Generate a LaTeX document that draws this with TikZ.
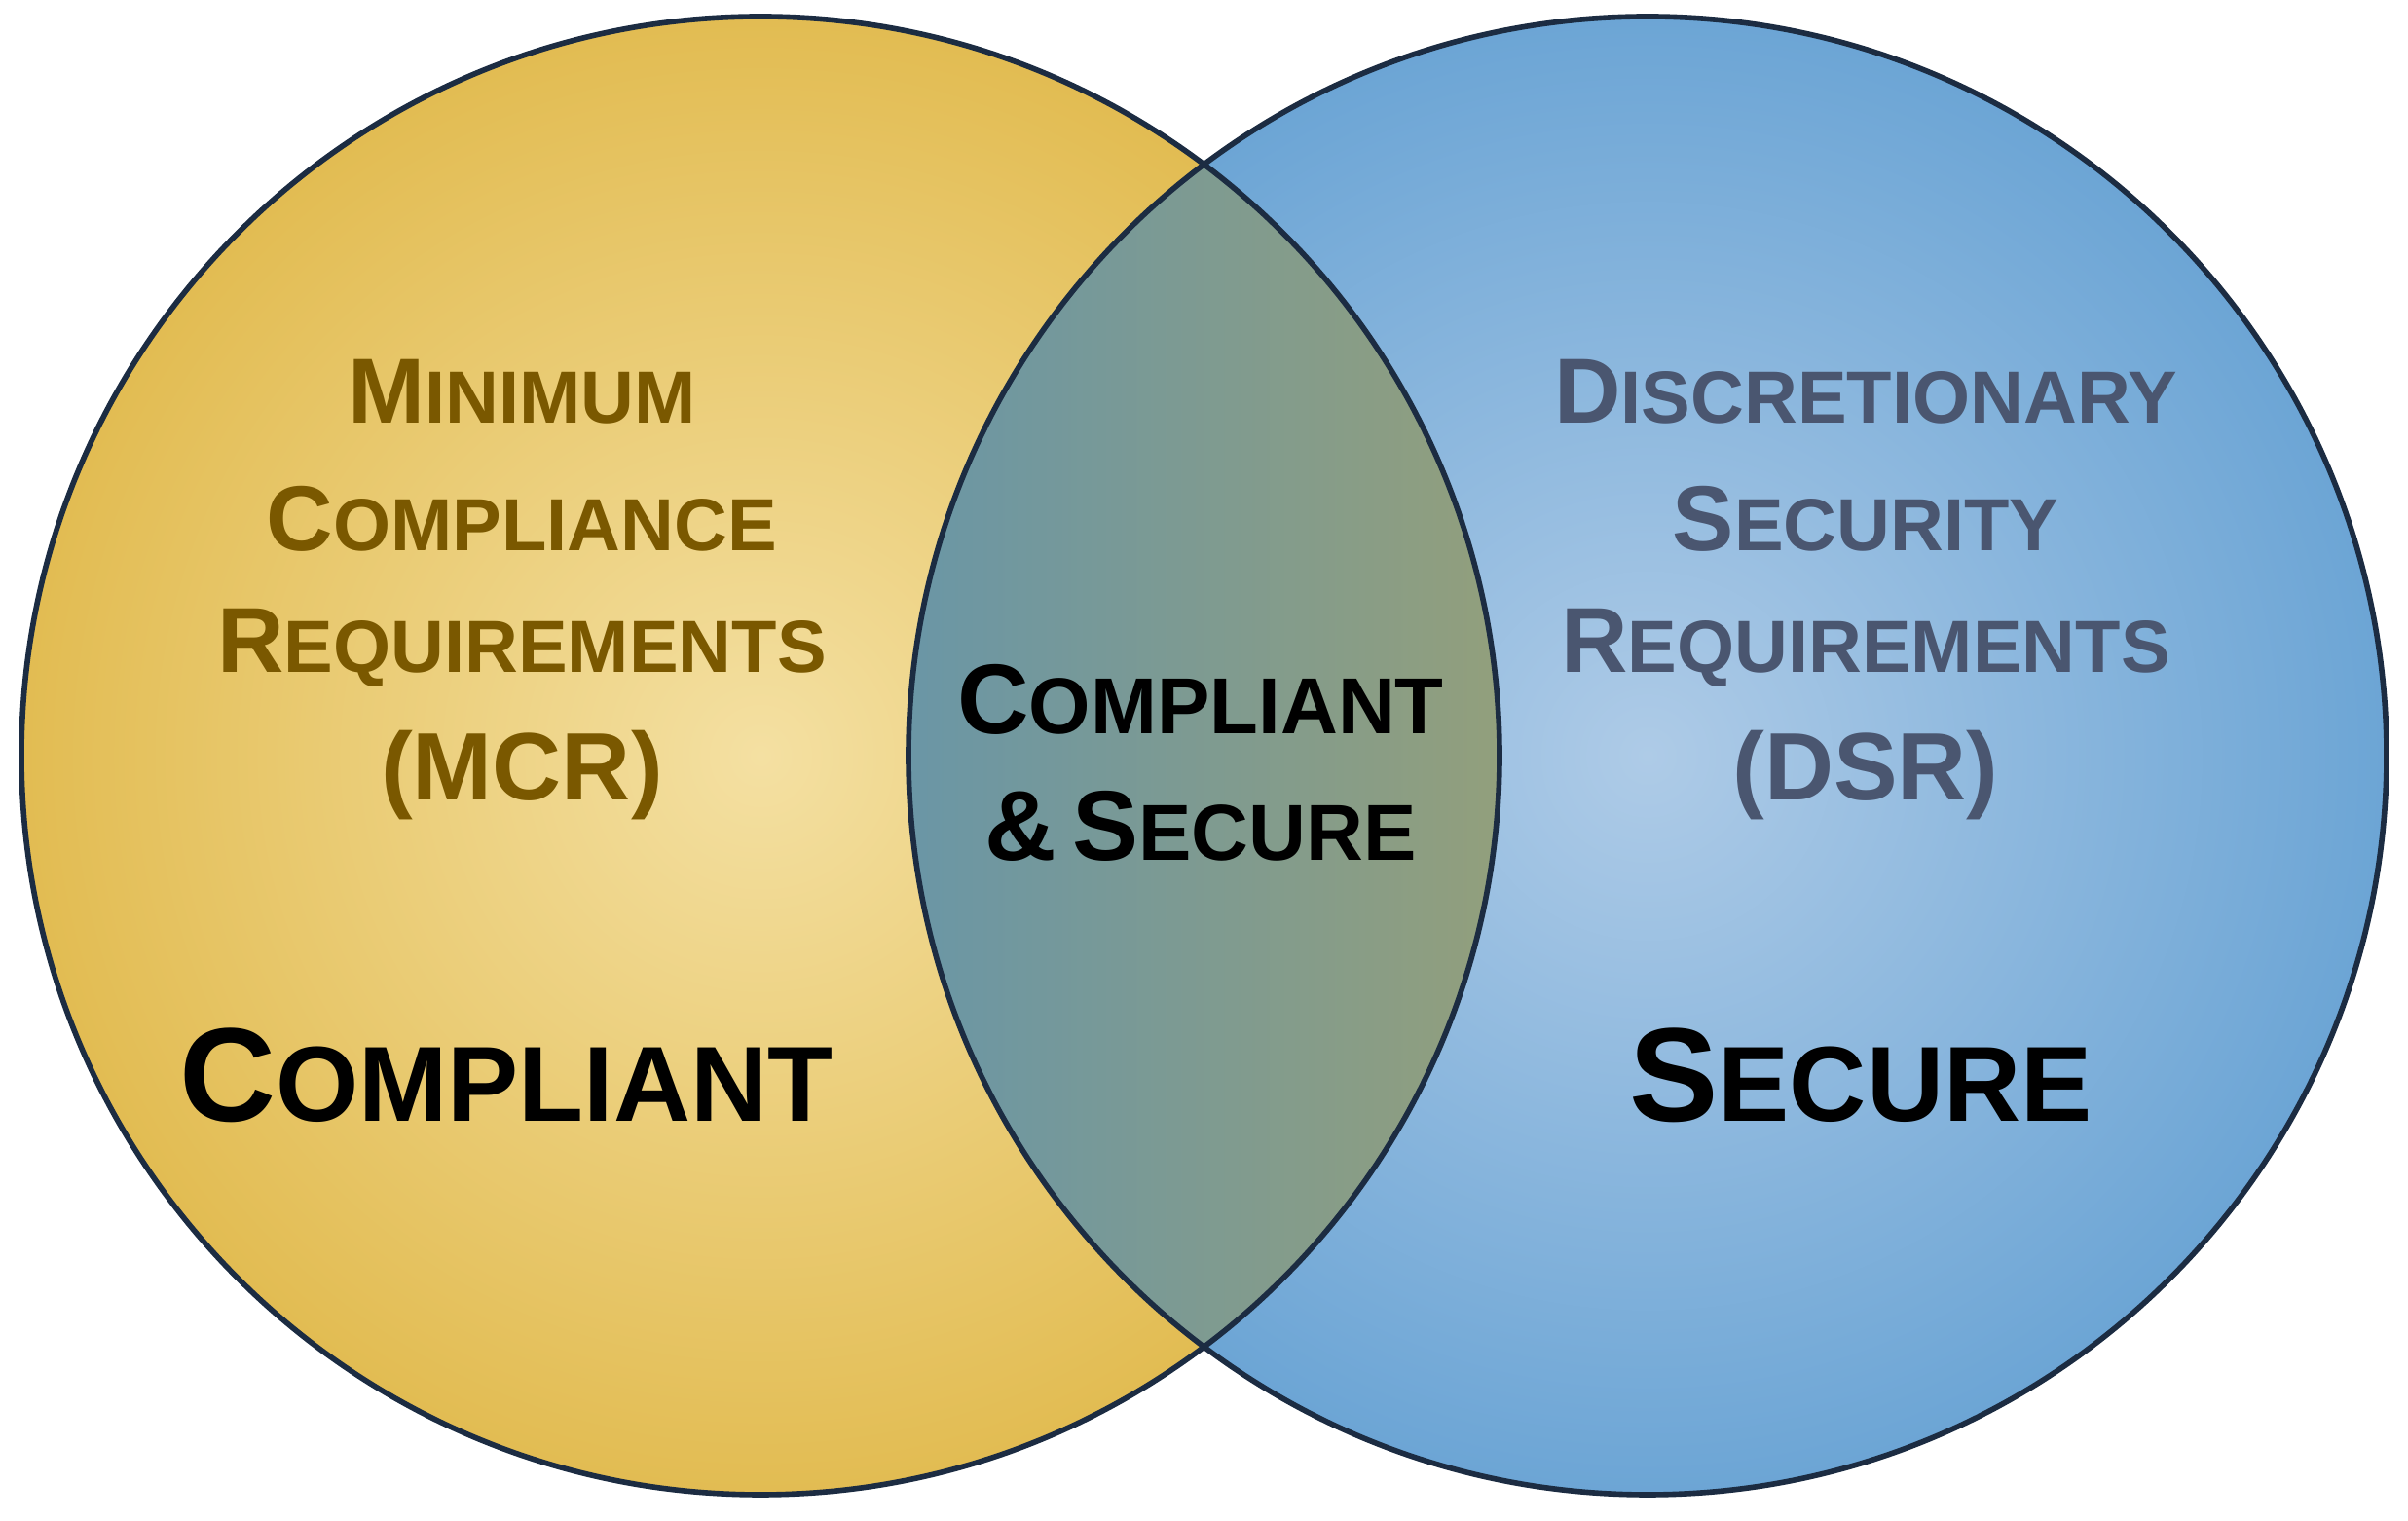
\documentclass[tikz,border=0pt]{standalone}
\usepackage{fontspec}
\setmainfont{Liberation Sans}
\definecolor{ylin}{HTML}{F4E0A2}
\definecolor{ylout}{HTML}{E2BC52}
\definecolor{blin}{HTML}{AECBE7}
\definecolor{blout}{HTML}{6CA5D5}
\definecolor{ovl}{HTML}{6A96A6}
\definecolor{ovr}{HTML}{929F7C}
\definecolor{edge}{HTML}{1C2C42}
\definecolor{brown}{HTML}{7A5800}
\definecolor{slate}{HTML}{4A5670}
\newcommand{\scw}[3]{{\fontsize{#1}{#1}\selectfont #2}{\fontsize{0.8\dimexpr#1\relax}{#1}\selectfont #3}}
\tikzset{lbl/.style={font=\bfseries, align=center, inner sep=0pt}}
\begin{document}
\begin{tikzpicture}
\useasboundingbox (0,0) rectangle (24.73,15.62);
\coordinate (L) at (7.81,7.86);
\coordinate (R) at (16.92,7.86);
\shade[inner color=ylin, outer color=ylout] (L) circle (7.59);
\shade[inner color=blin, outer color=blout] (R) circle (7.59);
\begin{scope}
\clip (L) circle (7.59);
\clip (R) circle (7.59);
\shade[left color=ovl, right color=ovr] (9.3,0) rectangle (15.4,15.62);
\end{scope}
\draw[edge, line width=1.6pt] (L) circle (7.59);
\draw[edge, line width=1.6pt] (R) circle (7.59);
\node[lbl, text=brown] (m1) at (5.36,11.60) {\scw{27pt}{M}{INIMUM}};
\node[lbl, text=brown] (m2) at (5.36,10.29) {\scw{27pt}{C}{OMPLIANCE}};
\node[lbl, text=brown] (m3) at (5.36,8.97) {\scw{27pt}{R}{EQUIREMENTS}};
\node[lbl, text=brown] (m4) at (5.36,7.66) {\fontsize{28pt}{28pt}\selectfont (MCR)};
\node[lbl, text=slate] (d1) at (19.16,11.60) {\scw{27pt}{D}{ISCRETIONARY}};
\node[lbl, text=slate] (d2) at (19.16,10.29) {\scw{27pt}{S}{ECURITY}};
\node[lbl, text=slate] (d3) at (19.16,8.97) {\scw{27pt}{R}{EQUIREMENTS}};
\node[lbl, text=slate] (d4) at (19.16,7.66) {\fontsize{28pt}{28pt}\selectfont (DSR)};
\node[lbl] (c1) at (12.33,8.44) {\scw{29pt}{C}{OMPLIANT}};
\node[lbl] (c2) at (12.33,7.14) {\scw{29pt}{\&\,S}{ECURE}};
\node[lbl] (cl) at (5.20,4.58) {\scw{39pt}{C}{OMPLIANT}};
\node[lbl] (sr) at (19.11,4.58) {\scw{39pt}{S}{ECURE}};
\end{tikzpicture}
\end{document}
